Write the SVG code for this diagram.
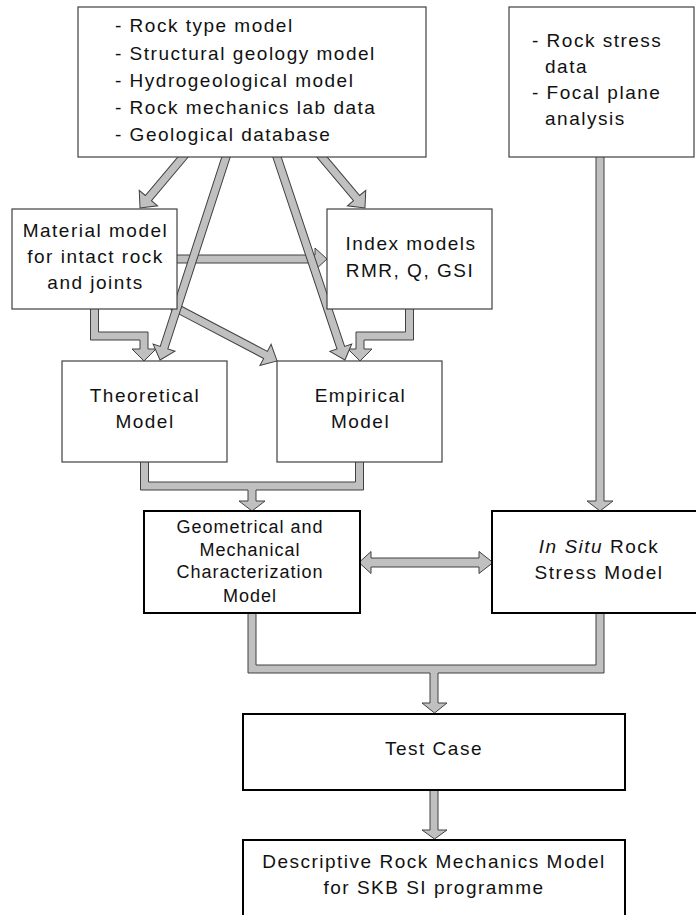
<svg xmlns="http://www.w3.org/2000/svg" width="696" height="915" viewBox="0 0 696 915">
<style>
.bx{fill:#fff;stroke:#404040;stroke-width:1.2}
.bk{fill:#fff;stroke:#000;stroke-width:2}
.cn{fill:#c0c0c0;stroke:#404040;stroke-width:1;stroke-linejoin:miter}
text{font-family:"Liberation Sans",Arial,sans-serif;font-size:19px;letter-spacing:1.5px;fill:#111}
.m{text-anchor:middle}
.s{font-size:18px;letter-spacing:1px}
</style>
<rect width="696" height="915" fill="#fff"/>
<g id="connectors">
  <!-- top box to material model -->
  <polygon class="cn" transform="translate(183,157) rotate(130.1)" points="-6,-4 53.7,-4 53.7,-12 66.7,0 53.7,12 53.7,4 -6,4"/>
  <!-- top box to index models -->
  <polygon class="cn" transform="translate(322,157) rotate(49.9)" points="-6,-4 53.7,-4 53.7,-12 66.7,0 53.7,12 53.7,4 -6,4"/>
  <!-- material to index horizontal -->
  <polygon class="cn" points="170,255 315,255 315,248 327,259 315,270 315,263 170,263"/>
  <!-- material to theoretical elbow -->
  <polygon class="cn" points="90.5,305 98.5,305 98.5,332 148,332 148,349 156,349 144,361 132,349 140,349 140,340 90.5,340"/>
  <!-- index to empirical elbow -->
  <polygon class="cn" points="413.5,305 413.5,340 364,340 364,349 372,349 360,361 348,349 356,349 356,332 405.5,332 405.5,305"/>
  <!-- material to empirical diagonal -->
  <polygon class="cn" transform="translate(180,310) rotate(27.7)" points="-8,-4 96.6,-4 96.6,-12 109.6,0 96.6,12 96.6,4 -8,4"/>
  <!-- top box to theoretical -->
  <polygon class="cn" transform="translate(226,157) rotate(108)" points="-6,-4 200.5,-4 200.5,-11.5 213.5,0 200.5,11.5 200.5,4 -6,4"/>
  <!-- top box to empirical -->
  <polygon class="cn" transform="translate(277,157) rotate(71.5)" points="-6,-4 201.1,-4 201.1,-11.5 214.1,0 201.1,11.5 201.1,4 -6,4"/>
  <!-- theoretical + empirical to geometrical -->
  <polygon class="cn" points="140.5,458 148.5,458 148.5,482 355.5,482 355.5,458 363.5,458 363.5,490 256,490 256,501 265,501 252,511 239,501 248,501 248,490 140.5,490"/>
  <!-- rock stress data to in situ -->
  <polygon class="cn" points="596,150 604,150 604,501 613,501 600,511 587,501 596,501"/>
  <!-- double arrow geometrical <-> in situ -->
  <polygon class="cn" points="359,562.5 371,551.5 371,558 479,558 479,551.5 493,562.5 479,573.5 479,567 371,567 371,573.5"/>
  <!-- geometrical + in situ to test case -->
  <polygon class="cn" points="248,608 256,608 256,665 596,665 596,608 604,608 604,673 438,673 438,703 447,703 434.5,713 422,703 430,703 430,673 248,673"/>
  <!-- test case to descriptive -->
  <polygon class="cn" points="430,785 438,785 438,830 447,830 434.5,839 422,830 430,830"/>
</g>
<g id="input-models">
  <rect class="bx" x="78" y="7" width="348" height="150"/>
  <text x="115" y="32">- Rock type model</text>
  <text x="115" y="60">- Structural geology model</text>
  <text x="115" y="87">- Hydrogeological model</text>
  <text x="115" y="114">- Rock mechanics lab data</text>
  <text x="115" y="141">- Geological database</text>
</g>
<g id="stress-data">
  <rect class="bx" x="509" y="7" width="185" height="150"/>
  <text x="532" y="47">- Rock stress</text>
  <text x="545" y="73">data</text>
  <text x="532" y="99">- Focal plane</text>
  <text x="545" y="125">analysis</text>
</g>
<g id="material-model">
  <rect class="bx" x="12" y="209" width="165" height="100"/>
  <text class="m" x="95.5" y="237">Material model</text>
  <text class="m" x="95.5" y="263">for intact rock</text>
  <text class="m" x="95.5" y="289">and joints</text>
</g>
<g id="index-models">
  <rect class="bx" x="327" y="209" width="165" height="100"/>
  <text class="m" x="411" y="250">Index models</text>
  <text class="m" x="410" y="277">RMR, Q, GSI</text>
</g>
<g id="theoretical-model">
  <rect class="bx" x="62" y="361" width="165" height="101"/>
  <text class="m" x="145" y="402">Theoretical</text>
  <text class="m" x="145" y="428">Model</text>
</g>
<g id="empirical-model">
  <rect class="bx" x="277" y="361" width="165" height="101"/>
  <text class="m" x="360.5" y="402">Empirical</text>
  <text class="m" x="360.5" y="428">Model</text>
</g>
<g id="geometrical-model">
  <rect class="bk" x="144" y="511" width="216" height="102"/>
  <text class="m s" x="250" y="533">Geometrical and</text>
  <text class="m s" x="250" y="556">Mechanical</text>
  <text class="m s" x="250" y="578">Characterization</text>
  <text class="m s" x="250" y="602">Model</text>
</g>
<g id="in-situ-model">
  <rect class="bk" x="492" y="511" width="206" height="102"/>
  <text class="m" x="599" y="553"><tspan font-style="italic">In Situ</tspan> Rock</text>
  <text class="m" x="599" y="579">Stress Model</text>
</g>
<g id="test-case">
  <rect class="bk" x="243" y="714" width="382" height="76"/>
  <text class="m" x="434" y="755">Test Case</text>
</g>
<g id="descriptive-model">
  <rect class="bk" x="243" y="840" width="382" height="100"/>
  <text class="m" x="434" y="868">Descriptive Rock Mechanics Model</text>
  <text class="m" x="434" y="894">for SKB SI programme</text>
</g>
</svg>
